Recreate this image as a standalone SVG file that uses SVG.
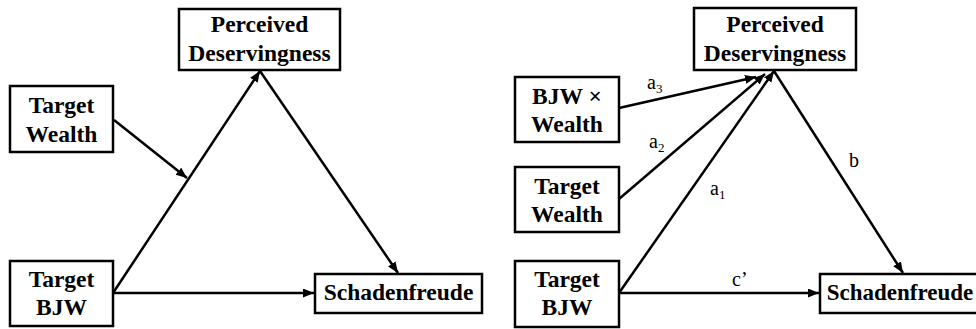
<svg xmlns="http://www.w3.org/2000/svg" width="976" height="329" viewBox="0 0 976 329">
<style>
.box{fill:#fff;stroke:#000;stroke-width:2.5}
.t{font-family:"Liberation Serif","Times New Roman",serif;font-weight:bold;font-size:23.5px;text-anchor:middle;fill:#000}
.l{font-family:"Liberation Serif","Times New Roman",serif;font-size:20px;fill:#000}
.s{font-size:13px}
.c{stroke:#000;stroke-width:2.5;fill:none;marker-end:url(#ah)}
</style>
<defs>
<marker id="ah" markerUnits="userSpaceOnUse" markerWidth="12" markerHeight="10" refX="11" refY="4.5" orient="auto">
<path d="M0,0 L11,4.5 L0,9 z" fill="#000"/>
</marker>
</defs>
<rect width="976" height="329" fill="#fff"/>
<g id="connectors">
<line class="c" x1="113" y1="293" x2="260" y2="71"/>
<line class="c" x1="113" y1="293" x2="314" y2="293"/>
<line class="c" x1="114" y1="120" x2="187" y2="178"/>
<line class="c" x1="260" y1="71" x2="398" y2="273"/>
<line class="c" x1="619" y1="108" x2="756" y2="77"/>
<line class="c" x1="619" y1="199" x2="765" y2="74"/>
<line class="c" x1="619" y1="293" x2="774" y2="71"/>
<line class="c" x1="619" y1="293" x2="819" y2="293"/>
<line class="c" x1="774" y1="71" x2="903" y2="273"/>
</g>
<g id="labels">
<text class="l" x="647" y="89">a<tspan class="s" dy="4">3</tspan></text>
<text class="l" x="649" y="148">a<tspan class="s" dy="4">2</tspan></text>
<text class="l" x="710" y="195">a<tspan class="s" dy="4">1</tspan></text>
<text class="l" x="849" y="167">b</text>
<text class="l" x="732" y="286">c’</text>
</g>
<g id="L_PD"><rect class="box" x="179" y="9" width="161" height="61"/><text class="t" x="259.5" y="32">Perceived</text><text class="t" x="259.5" y="61">Deservingness</text></g>
<g id="L_TW"><rect class="box" x="10" y="86" width="103" height="66"/><text class="t" x="61.5" y="113">Target</text><text class="t" x="61.5" y="142">Wealth</text></g>
<g id="L_BJW"><rect class="box" x="10" y="261" width="103" height="65"/><text class="t" x="61.5" y="287">Target</text><text class="t" x="61.5" y="315">BJW</text></g>
<g id="L_S"><rect class="box" x="315" y="274" width="167" height="39"/><text class="t" x="398.5" y="300">Schadenfreude</text></g>
<g id="R_PD"><rect class="box" x="694" y="8" width="162" height="62"/><text class="t" x="775" y="32">Perceived</text><text class="t" x="775" y="61">Deservingness</text></g>
<g id="R_INT"><rect class="box" x="515" y="77" width="104" height="65"/><text class="t" x="567" y="104">BJW ×</text><text class="t" x="567" y="132">Wealth</text></g>
<g id="R_TW"><rect class="box" x="515" y="167" width="104" height="65"/><text class="t" x="567" y="194">Target</text><text class="t" x="567" y="222">Wealth</text></g>
<g id="R_BJW"><rect class="box" x="515" y="261" width="104" height="66"/><text class="t" x="567" y="287">Target</text><text class="t" x="567" y="315">BJW</text></g>
<g id="R_S"><rect class="box" x="820" y="274" width="167" height="39"/><text class="t" x="900" y="300" style="font-size:23px">Schadenfreude</text></g>
</svg>
